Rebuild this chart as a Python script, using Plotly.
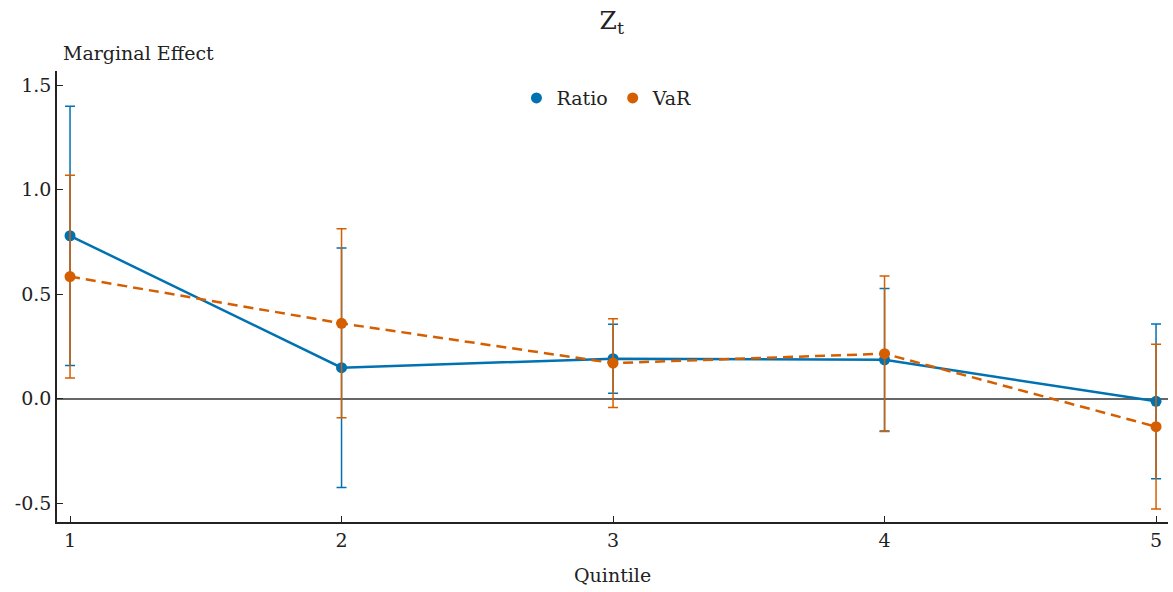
import plotly.graph_objects as go

quintiles = [1, 2, 3, 4, 5]
ratio = [0.779, 0.148, 0.191, 0.186, -0.013]
ratio_err = [0.62, 0.573, 0.165, 0.341, 0.37]
var = [0.584, 0.360, 0.170, 0.215, -0.134]
var_err = [0.485, 0.452, 0.212, 0.372, 0.394]

BLUE = "#0072B2"
ORANGE = "#D55E00"
FONT = "DejaVu Serif"
FS = 19

fig = go.Figure()
fig.add_trace(go.Scatter(
    x=quintiles, y=ratio, mode="lines+markers", name="Ratio", showlegend=False,
    line=dict(color=BLUE, width=2.5),
    marker=dict(color=BLUE, size=11),
    error_y=dict(type="data", array=ratio_err, visible=True, color=BLUE, thickness=1.5, width=5),
))
fig.add_trace(go.Scatter(
    x=quintiles, y=var, mode="lines+markers", name="VaR", showlegend=False,
    line=dict(color=ORANGE, width=2.5, dash="10px,6px"),
    marker=dict(color=ORANGE, size=11),
    error_y=dict(type="data", array=var_err, visible=True, color=ORANGE, thickness=1.5, width=5),
))
fig.add_trace(go.Scatter(x=[None], y=[None], mode="markers", name="Ratio",
                         marker=dict(color=BLUE, size=11)))
fig.add_trace(go.Scatter(x=[None], y=[None], mode="markers", name="VaR",
                         marker=dict(color=ORANGE, size=11)))

fig.update_layout(
    width=1173, height=592,
    margin=dict(l=57, r=5, t=71, b=70),
    paper_bgcolor="white", plot_bgcolor="white",
    font=dict(family=FONT, size=FS, color="#222"),
    title=dict(text="Z<sub>t</sub>", x=0.5215, xanchor="center", y=0.966, yanchor="middle",
               font=dict(size=25, family=FONT)),
    legend=dict(orientation="h", x=0.495, xanchor="center", y=0.94, yanchor="middle",
                font=dict(size=FS, family=FONT), bgcolor="rgba(0,0,0,0)", itemwidth=30),
    xaxis=dict(range=[0.952, 5.044], tickvals=quintiles, ticktext=[str(q) for q in quintiles],
               showline=True, linecolor="#222", linewidth=1.5, ticks="inside", ticklen=6,
               tickcolor="#222", showgrid=False, zeroline=False,
               tickfont=dict(size=FS, family=FONT)),
    yaxis=dict(range=[-0.59, 1.567], tickvals=[-0.5, 0, 0.5, 1.0, 1.5],
               ticktext=["-0.5", "0.0", "0.5", "1.0", "1.5"],
               showline=True, linecolor="#222", linewidth=1.5, ticks="inside", ticklen=6,
               tickcolor="#222", showgrid=False, zeroline=True, zerolinecolor="#666",
               zerolinewidth=1.5, tickfont=dict(size=FS, family=FONT)),
    annotations=[
        dict(text="Marginal Effect", xref="paper", yref="paper", x=0.0036, y=1.04,
             xanchor="left", yanchor="middle", showarrow=False,
             font=dict(size=FS, family=FONT)),
        dict(text="Quintile", xref="paper", yref="paper", x=0.5, y=-0.1175,
             xanchor="center", yanchor="middle", showarrow=False,
             font=dict(size=FS, family=FONT)),
    ],
)

fig.write_html("out.html", config={"displayModeBar": False},
               post_script="document.body.style.margin='0';")
